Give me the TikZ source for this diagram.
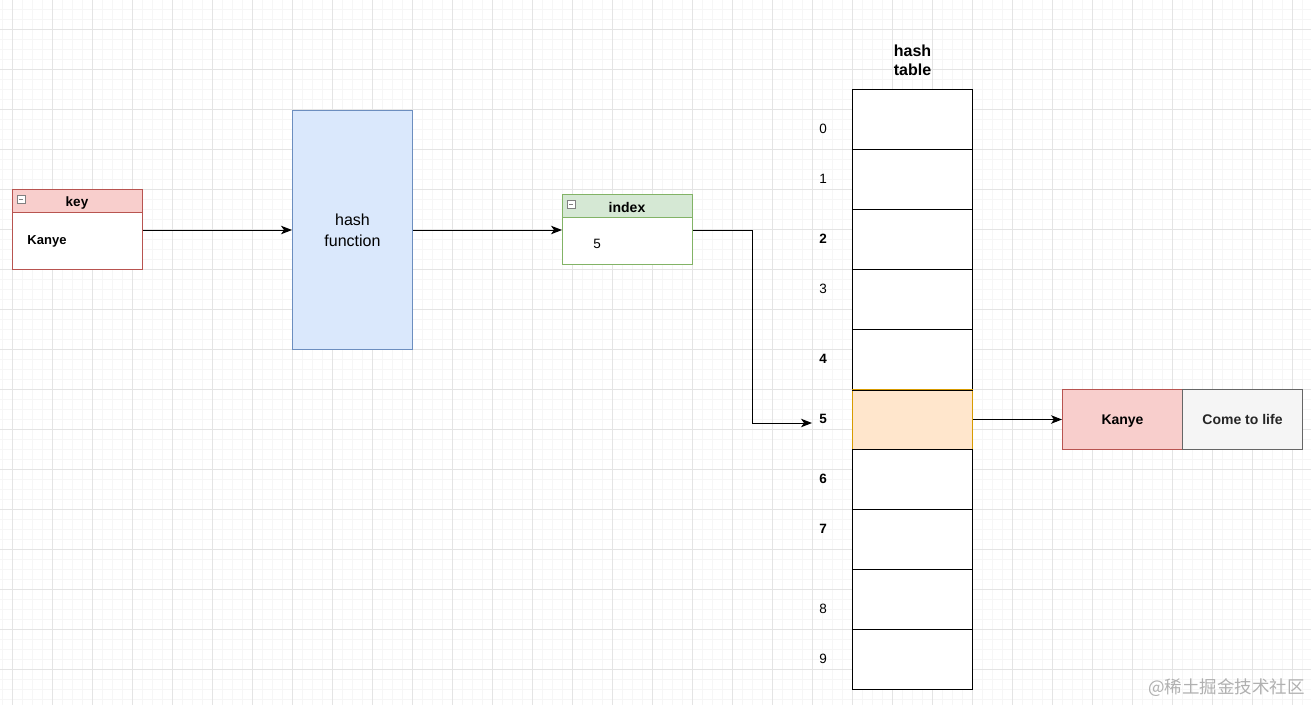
\documentclass[tikz,border=0pt]{standalone}
\usepackage{fontspec}
\setmainfont{Liberation Sans}
\newfontfamily\cjk{Noto Sans CJK SC}
\usetikzlibrary{arrows.meta}
\definecolor{minorgrid}{HTML}{F6F6F6}
\definecolor{majorgrid}{HTML}{E4E4E4}
\definecolor{redfill}{HTML}{F8CECC}
\definecolor{redline}{HTML}{B85450}
\definecolor{bluefill}{HTML}{DAE8FC}
\definecolor{blueline}{HTML}{6C8EBF}
\definecolor{greenfill}{HTML}{D5E8D4}
\definecolor{greenline}{HTML}{82B366}
\definecolor{orangefill}{HTML}{FFE6CC}
\definecolor{orangeline}{HTML}{D79B00}
\definecolor{grayfill}{HTML}{F5F5F5}
\definecolor{grayline}{HTML}{666666}
\definecolor{wmark}{HTML}{B0B0B0}
\tikzset{
  box/.style={rectangle, inner sep=0pt, line width=1pt},
  cell/.style={box, draw=black, fill=white, minimum width=120pt, minimum height=60pt},
  num/.style={inner sep=1pt, font=\fontsize{13.5}{15}\selectfont},
  conn/.style={line width=1pt, -{Stealth[length=11pt,width=8.5pt,inset=3pt]}},
  minusicon/.style={rectangle, draw=gray, fill=white, inner sep=0pt, minimum size=8pt, line width=0.6pt},
}
\begin{document}
\begin{tikzpicture}[x=1pt,y=-1pt]
\useasboundingbox (0,0) rectangle (1311,705);
\fill[white] (0,0) rectangle (1311,705);
% grid
\foreach \gx in {2.5,12.5,...,1311} {\draw[minorgrid, line width=0.6pt] (\gx,0) -- (\gx,705);}
\foreach \gy in {-0.5,9.5,...,705} {\draw[minorgrid, line width=0.6pt] (0,\gy) -- (1311,\gy);}
\foreach \gx in {12.5,52.5,...,1311} {\draw[majorgrid, line width=0.8pt] (\gx,0) -- (\gx,705);}
\foreach \gy in {29.5,69.5,...,705} {\draw[majorgrid, line width=0.8pt] (0,\gy) -- (1311,\gy);}

% key box
\node[box, draw=redline, fill=white, minimum width=130pt, minimum height=79.5pt] (key) at (77.5,229.25) {};
\fill[redfill] (12.5,189.5) rectangle (142.5,212.5);
\draw[redline, line width=1pt] (12.5,212.5) -- (142.5,212.5);
\draw[redline, line width=1pt] (12.5,189.5) rectangle (142.5,269);
\node[minusicon] (keymin) at (21,199) {};
\draw[gray, line width=0.8pt] ([xshift=-2pt]keymin.center) -- ([xshift=2pt]keymin.center);
\node[font=\bfseries\fontsize{13.5}{15}\selectfont, inner sep=0pt, anchor=base] (keyt) at (77,206.5) {key};
\node[font=\bfseries\fontsize{13}{15}\selectfont, inner sep=0pt, anchor=base] (keyv) at (47,244.5) {Kanye};

% hash function
\node[box, draw=blueline, fill=bluefill, minimum width=120pt, minimum height=239.5pt,
  align=center, font=\fontsize{16}{21}\selectfont] (hf) at (352.5,230) {hash\\function};

% index box
\node[box, draw=greenline, fill=white, minimum width=130pt, minimum height=69.5pt] (idx) at (627.5,229.25) {};
\fill[greenfill] (562.5,194.5) rectangle (692.5,217.5);
\draw[greenline, line width=1pt] (562.5,217.5) -- (692.5,217.5);
\draw[greenline, line width=1pt] (562.5,194.5) rectangle (692.5,264);
\node[minusicon] (idxmin) at (571,204) {};
\draw[gray, line width=0.8pt] ([xshift=-2pt]idxmin.center) -- ([xshift=2pt]idxmin.center);
\node[font=\bfseries\fontsize{14}{15}\selectfont, inner sep=0pt, anchor=base] (idxt) at (627,212) {index};
\node[font=\fontsize{13.5}{15}\selectfont, inner sep=0pt] (idxv) at (597,244) {5};

% hash table
\node[align=center, font=\bfseries\fontsize{16}{19}\selectfont, inner sep=0pt] (ht) at (912.5,60) {hash\\table};
\foreach \i in {0,...,9} {
  \node[cell] (r\i) at (912.5,119.5+60*\i) {};
}
\node[cell, draw=orangeline, fill=orangefill] (r5) at (912.5,419.5) {};
\draw[line width=1pt] (r4.south west) -- (r4.south east);
\draw[line width=1pt] (r6.north west) -- (r6.north east);

\node[num] (l0) at (823,129) {0};
\node[num] (l1) at (823,179) {1};
\node[num, font=\bfseries\fontsize{13.5}{15}\selectfont] (l2) at (823,239) {2};
\node[num] (l3) at (823,289) {3};
\node[num, font=\bfseries\fontsize{13.5}{15}\selectfont] (l4) at (823,359) {4};
\node[num, font=\bfseries\fontsize{13.5}{15}\selectfont] (l5) at (823,419) {5};
\node[num, font=\bfseries\fontsize{13.5}{15}\selectfont] (l6) at (823,479) {6};
\node[num, font=\bfseries\fontsize{13.5}{15}\selectfont] (l7) at (823,529) {7};
\node[num] (l8) at (823,609) {8};
\node[num] (l9) at (823,659) {9};

% entry
\node[box, draw=redline, fill=redfill, minimum width=120pt, minimum height=60pt,
  font=\bfseries\fontsize{14}{16}\selectfont, text depth=0pt] (ek) at (1122.5,419.5) {Kanye};
\node[box, draw=grayline, fill=grayfill, minimum width=120pt, minimum height=60pt,
  font=\bfseries\fontsize{14}{16}\selectfont, text=black!85, text depth=0pt] (ev) at (1242.5,419.5) {Come to life};

% connectors
\coordinate (t5) at (812,423);
\draw[conn] (key.east |- 0,230) -- (hf.west |- 0,230);
\draw[conn] (hf.east |- 0,230) -- (idx.west |- 0,230);
\draw[conn] (idx.east |- 0,230) -- (752.5,230) -- (752.5,423) -- (t5);
\draw[conn] (r5.east) -- (ek.west);

% watermark
\node[font=\cjk\fontsize{17.5}{20}\selectfont, text=wmark, anchor=east, inner sep=0pt] (wm) at (1305,688) {@稀土掘金技术社区};
\end{tikzpicture}
\end{document}
